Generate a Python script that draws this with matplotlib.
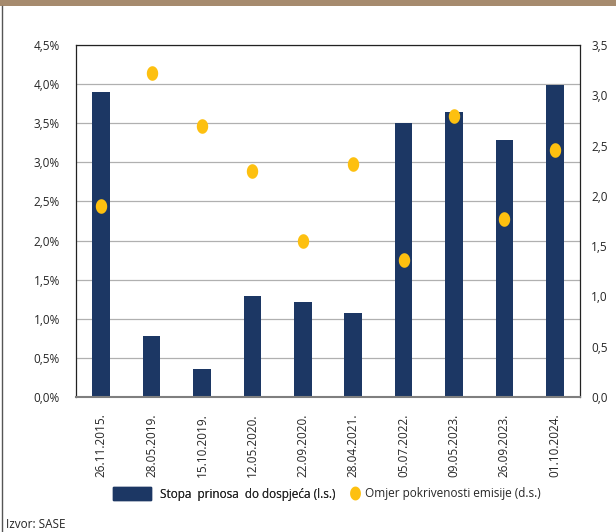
import numpy as np
import matplotlib
matplotlib.use('Agg')
from matplotlib import pyplot as plt
from matplotlib.path import Path
from matplotlib.lines import Line2D
from matplotlib.patches import Patch, Rectangle

plt.rcParams['font.family'] = ['Open Sans', 'DejaVu Sans']
plt.rcParams['font.size'] = 8.5

# data
dates = ['26.11.2015.', '28.05.2019.', '15.10.2019.', '12.05.2020.', '22.09.2020.',
         '28.04.2021.', '05.07.2022.', '09.05.2023.', '26.09.2023.', '01.10.2024.']
yield_pct = [3.90, 0.78, 0.36, 1.29, 1.21, 1.07, 3.50, 3.64, 3.28, 3.99]
coverage = [1.90, 3.22, 2.69, 2.25, 1.55, 2.32, 1.36, 2.79, 1.77, 2.46]
left_ticks = [0.0, 0.5, 1.0, 1.5, 2.0, 2.5, 3.0, 3.5, 4.0, 4.5]
right_ticks = [0.0, 0.5, 1.0, 1.5, 2.0, 2.5, 3.0, 3.5]

bar_col = '#1c3764'
dot_col = '#fdc010'
txt_col = '#262626'
W, H = 616, 532

def fmt(v):
    return ('%.1f' % v).replace('.', ',')

# slightly tall ellipse marker, like the reference dots
t = np.linspace(0, 2 * np.pi, 60)
ell = Path(np.column_stack([0.78 * np.cos(t), np.sin(t)]), closed=True)

fig = plt.figure(figsize=(W / 100, H / 100), dpi=100)
fig.patches.append(Rectangle((0, 1 - 6 / H), 1, 6 / H, transform=fig.transFigure,
                             facecolor='#a68b6e', edgecolor='none'))
fig.lines.append(Line2D([2.5 / W, 2.5 / W], [0, 1 - 6 / H], transform=fig.transFigure,
                        color='#555555', lw=1))

ax = fig.add_axes([76 / W, 1 - 397 / H, 504 / W, 352 / H])
x = np.arange(len(dates))
ax.bar(x, yield_pct, width=0.35, color=bar_col, zorder=2)
ax.set_xlim(-0.5, len(dates) - 0.5)
ax.set_ylim(0, 4.5)
ax.set_yticks(left_ticks)
ax.set_yticklabels([fmt(v) + '%' for v in left_ticks])
ax.set_xticks(x)
ax.set_xticklabels(dates, rotation=90)
ax.tick_params(axis='y', length=0, pad=11.5, colors=txt_col)
ax.tick_params(axis='x', length=0, pad=12, colors=txt_col)
ax.grid(axis='y', color='#b0b0b0', lw=0.9, zorder=0)
for s in ['top', 'left', 'right']:
    ax.spines[s].set_color('#222222')
    ax.spines[s].set_linewidth(0.9)
ax.spines['bottom'].set_color('#7f7f7f')
ax.spines['bottom'].set_linewidth(1.5)

ax2 = ax.twinx()
ax2.plot(x, coverage, ls='none', marker=ell, markersize=10.5, color=dot_col,
         markeredgewidth=0, zorder=3)
ax2.set_ylim(0, 3.5)
ax2.set_yticks(right_ticks)
ax2.set_yticklabels([fmt(v) for v in right_ticks])
ax2.tick_params(axis='y', length=0, pad=8, colors=txt_col)
for s in ax2.spines.values():
    s.set_visible(False)

# legend, split in two so the bar and dot handles keep their own widths
leg1 = fig.legend([Patch(color=bar_col)], ['Stopa  prinosa  do dospjeća (l.s.)'],
                  loc='center left', bbox_to_anchor=(113 / W, 1 - 494 / H),
                  frameon=False, borderpad=0, borderaxespad=0, labelcolor=txt_col,
                  handlelength=3.2, handleheight=1.3, handletextpad=0.75)
leg2 = fig.legend([Line2D([], [], ls='none', marker=ell, markersize=10, color=dot_col,
                          markeredgewidth=0)],
                  ['Omjer pokrivenosti emisije (d.s.)'],
                  loc='center left', bbox_to_anchor=(350 / W, 1 - 494 / H),
                  frameon=False, borderpad=0, borderaxespad=0, labelcolor=txt_col,
                  handlelength=0.85, handletextpad=0.4)
fig.add_artist(leg1)

fig.text(6 / W, 1 - 525 / H, 'Izvor: SASE', va='center', ha='left', color=txt_col)

fig.savefig('out.png', dpi=100)
